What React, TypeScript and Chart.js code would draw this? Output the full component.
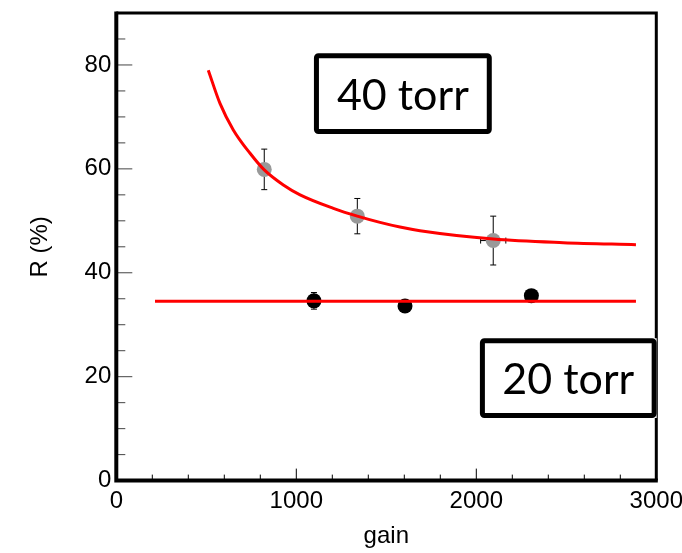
import { useEffect, useRef } from "react";
import { Chart, registerables } from "chart.js";

Chart.register(...registerables);

// ---- data ----
const gain40 = [822, 1339, 2094];
const r40 = [59.9, 50.9, 46.2];
const r40ErrY = [3.9, 3.4, 4.7];
const gain40ErrX = [0, 0, 70];

const gain20 = [1098, 1604, 2306];
const r20 = [34.6, 33.6, 35.6];
const r20ErrY = [1.6, 1.0, 1.0];

const fit40Gain = [511, 576, 650, 743, 822, 928, 1021, 1206, 1339, 1465, 1576, 1687, 2094, 2483, 2887];
const fit40R = [79.0, 72.6, 67.5, 63.0, 59.8, 56.9, 55.0, 52.4, 50.9, 49.7, 48.8, 48.1, 46.5, 45.8, 45.4];

const fit20Gain = [215, 2887];
const fit20R = [34.5, 34.5];

const boxTexts = ["40 torr", "20 torr"];
const boxGainLeft = [1098, 2020];
const boxGainRight = [2086, 3002];
const boxRTop = [82.25, 27.4];
const boxRBottom = [66.7, 12.05];

const X_MIN = 0, X_MAX = 3000, X_STEP = 1000, X_MINOR = 200;
const Y_MIN = 0, Y_MAX = 90, Y_STEP = 20, Y_MINOR = 5;

const TICK_FONT = { family: "'Liberation Sans', Arial, Helvetica, sans-serif", size: 24 };

const framePlugin = {
  id: "rootFrame",
  beforeDatasetsDraw(chart: any) {
    const { ctx, scales } = chart;
    const x = scales.x, y = scales.y;
    ctx.save();
    ctx.strokeStyle = "#000";
    ctx.lineWidth = 1;
    const drawErr = (gx: number[], ry: number[], ey: number[], ex: number[] | null) => {
      for (let i = 0; i < gx.length; i++) {
        const px = x.getPixelForValue(gx[i]);
        const py = y.getPixelForValue(ry[i]);
        const pyTop = y.getPixelForValue(ry[i] + ey[i]);
        const pyBot = y.getPixelForValue(ry[i] - ey[i]);
        ctx.beginPath();
        ctx.moveTo(px, pyTop); ctx.lineTo(px, pyBot);
        ctx.moveTo(px - 3, pyTop); ctx.lineTo(px + 3, pyTop);
        ctx.moveTo(px - 3, pyBot); ctx.lineTo(px + 3, pyBot);
        if (ex && ex[i] > 0) {
          const pl = x.getPixelForValue(gx[i] - ex[i]);
          const pr = x.getPixelForValue(gx[i] + ex[i]);
          ctx.moveTo(pl, py); ctx.lineTo(pr, py);
          ctx.moveTo(pl, py - 3); ctx.lineTo(pl, py + 3);
          ctx.moveTo(pr, py - 3); ctx.lineTo(pr, py + 3);
        }
        ctx.stroke();
      }
    };
    drawErr(gain40, r40, r40ErrY, gain40ErrX);
    drawErr(gain20, r20, r20ErrY, null);
    ctx.restore();
  },
  afterDatasetsDraw(chart: any) {
    const { ctx, chartArea: a, scales } = chart;
    const x = scales.x, y = scales.y;
    ctx.save();
    // x ticks (inside)
    ctx.strokeStyle = "#000";
    ctx.lineWidth = 1;
    ctx.beginPath();
    for (let v = X_MIN; v <= X_MAX; v += X_MINOR) {
      const px = x.getPixelForValue(v);
      const len = v % X_STEP === 0 ? 12 : 6;
      ctx.moveTo(px, a.bottom);
      ctx.lineTo(px, a.bottom - len);
    }
    ctx.stroke();
    // y ticks (inside)
    ctx.strokeStyle = "#444";
    ctx.beginPath();
    for (let v = Y_MIN; v <= Y_MAX; v += Y_MINOR) {
      const py = y.getPixelForValue(v);
      const len = v % Y_STEP === 0 ? 16 : 9;
      ctx.moveTo(a.left, py);
      ctx.lineTo(a.left + len, py);
    }
    ctx.stroke();
    // frame
    ctx.strokeStyle = "#000";
    ctx.lineWidth = 3;
    ctx.beginPath();
    ctx.moveTo(a.left, a.top);
    ctx.lineTo(a.right, a.top);
    ctx.lineTo(a.right, a.bottom);
    ctx.stroke();
    ctx.lineWidth = 4;
    ctx.beginPath();
    ctx.moveTo(a.left, a.top - 1.5);
    ctx.lineTo(a.left, a.bottom);
    ctx.lineTo(a.right + 1.5, a.bottom);
    ctx.stroke();
    // text boxes
    for (let i = 0; i < boxTexts.length; i++) {
      const l = x.getPixelForValue(boxGainLeft[i]);
      const r = x.getPixelForValue(boxGainRight[i]);
      const t = y.getPixelForValue(boxRTop[i]);
      const b = y.getPixelForValue(boxRBottom[i]);
      const bw = 5;
      ctx.fillStyle = "#fff";
      ctx.fillRect(l, t, r - l, b - t);
      ctx.strokeStyle = "#000";
      ctx.lineWidth = bw;
      ctx.beginPath();
      (ctx as any).roundRect(l + bw / 2, t + bw / 2, r - l - bw, b - t - bw, 2);
      ctx.stroke();
      ctx.fillStyle = "#000";
      ctx.font = "43px Lato, 'Open Sans', sans-serif";
      ctx.textAlign = "center";
      ctx.textBaseline = "alphabetic";
      ctx.fillText(boxTexts[i], (l + r) / 2, (t + b) / 2 + 16);
    }
    ctx.restore();
  },
};

export default function App() {
  const ref = useRef<HTMLCanvasElement | null>(null);
  useEffect(() => {
    document.body.style.margin = "0";
    const canvas = ref.current;
    if (!canvas) return;
    const zeroPad = (s: any) => {
      s.paddingLeft = 0; s.paddingRight = 0; s.paddingTop = 0; s.paddingBottom = 0;
    };
    const chart = new Chart(canvas, {
      type: "scatter",
      data: {
        datasets: [
          {
            label: "fit 40 torr",
            data: fit40Gain.map((g, i) => ({ x: g, y: fit40R[i] })),
            showLine: true,
            borderColor: "#ff0000",
            borderWidth: 3,
            pointRadius: 0,
            cubicInterpolationMode: "monotone",
            order: 0,
          },
          {
            label: "fit 20 torr",
            data: fit20Gain.map((g, i) => ({ x: g, y: fit20R[i] })),
            showLine: true,
            borderColor: "#ff0000",
            borderWidth: 3,
            pointRadius: 0,
            order: 0,
          },
          {
            label: "40 torr",
            data: gain40.map((g, i) => ({ x: g, y: r40[i] })),
            backgroundColor: "#999999",
            borderWidth: 0,
            pointRadius: 7.5,
            order: 1,
          },
          {
            label: "20 torr",
            data: gain20.map((g, i) => ({ x: g, y: r20[i] })),
            backgroundColor: "#000000",
            borderWidth: 0,
            pointRadius: 7.5,
            order: 1,
          },
        ] as any,
      },
      options: {
        animation: false,
        responsive: false,
        devicePixelRatio: 1,
        layout: { padding: { left: 0, right: 25.7, top: 13, bottom: 0 } },
        plugins: { legend: { display: false }, tooltip: { enabled: false } },
        scales: {
          x: {
            type: "linear",
            position: "bottom",
            min: X_MIN,
            max: X_MAX,
            grid: { display: false, drawTicks: false },
            border: { display: false },
            ticks: {
              stepSize: X_STEP,
              padding: 6,
              color: "#000",
              font: TICK_FONT,
              maxRotation: 0,
              minRotation: 0,
              autoSkip: false,
              callback: (v: any) => String(v),
            },
            title: {
              display: true,
              text: "gain",
              color: "#000",
              font: TICK_FONT,
              padding: { top: 0, bottom: 2 },
            },
            afterFit: (s: any) => { s.height = 72.4; zeroPad(s); },
          },
          y: {
            type: "linear",
            position: "left",
            min: Y_MIN,
            max: Y_MAX,
            grid: { display: false, drawTicks: false },
            border: { display: false },
            ticks: {
              stepSize: Y_STEP,
              includeBounds: false,
              padding: 5,
              color: "#000",
              font: TICK_FONT,
              callback: (v: any) => String(v),
            },
            title: {
              display: true,
              text: "R (%)",
              color: "#000",
              font: TICK_FONT,
              padding: { top: 25.6, bottom: 0 },
            },
            afterFit: (s: any) => { s.width = 116.3; zeroPad(s); },
          },
        },
      } as any,
      plugins: [framePlugin],
    });
    return () => chart.destroy();
  }, []);
  return (
    <canvas
      ref={ref}
      width={682}
      height={553}
      style={{ display: "block", width: 682, height: 553, background: "#fff" }}
    />
  );
}
